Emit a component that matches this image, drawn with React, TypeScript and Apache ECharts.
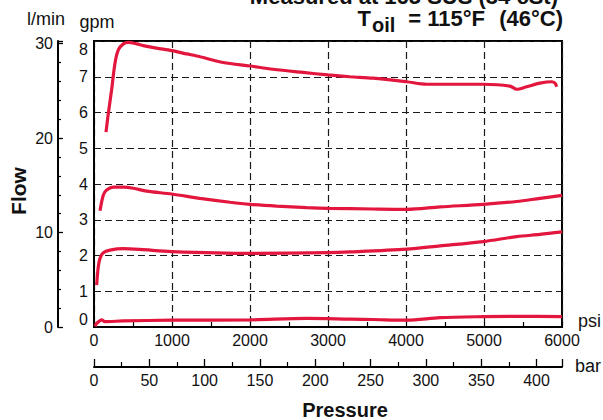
import React, { useEffect, useRef } from "react";
import * as echarts from "echarts";

// Flow (gpm) vs pressure (psi) curves
const curveTop: [number, number][] = [
  [154, 5.45], [184, 5.98], [227, 6.65], [269, 7.38], [312, 7.75], [376, 7.92],
  [440, 7.96], [547, 7.92], [632, 7.87], [803, 7.8], [996, 7.73], [1188, 7.64],
  [1359, 7.56], [1655, 7.4], [2000, 7.3], [2295, 7.21], [2680, 7.12], [3000, 7.05],
  [3282, 7.0], [3577, 6.96], [4009, 6.86], [4265, 6.79], [4650, 6.79], [4987, 6.79],
  [5333, 6.74], [5419, 6.65], [5547, 6.72], [5718, 6.82], [5868, 6.86], [5910, 6.82],
  [5932, 6.72],
];
const curveUpperMid: [number, number][] = [
  [77, 3.25], [120, 3.69], [162, 3.83], [248, 3.91], [376, 3.91], [504, 3.88],
  [675, 3.8], [996, 3.72], [1359, 3.6], [1744, 3.49], [2000, 3.43], [2342, 3.38],
  [2727, 3.34], [3000, 3.32], [3577, 3.3], [4009, 3.29], [4436, 3.36], [4991, 3.43],
  [5419, 3.51], [5718, 3.6], [6000, 3.68],
];
const curveLowerMid: [number, number][] = [
  [34, 1.17], [55, 1.69], [77, 1.92], [120, 2.08], [205, 2.15], [376, 2.19],
  [590, 2.17], [996, 2.11], [2000, 2.06], [3000, 2.08], [3282, 2.1], [4009, 2.18],
  [4436, 2.27], [4991, 2.39], [5419, 2.53], [5718, 2.59], [6000, 2.66],
];
const curveBottom: [number, number][] = [
  [13, 0.02], [34, 0.1], [99, 0.2], [140, 0.15], [376, 0.17], [996, 0.19],
  [2000, 0.2], [2727, 0.24], [3282, 0.22], [3577, 0.21], [4009, 0.19], [4436, 0.26],
  [4991, 0.29], [5419, 0.3], [6000, 0.29],
];

const psiRange = [0, 6000];
const barRange = [0, 423];
const gpmRange = [0, 8];
const lminMax = 8 * 3.78541;

const titleLine1 = "Measured at 165 SUS (34 cSt)";
const titleT = "T";
const titleSub = "oil";
const titleEq = "= 115°F";
const titleC = "(46°C)";

const RED = "#e3173e";
const FF = '"Liberation Sans", Arial, Helvetica, sans-serif';

export default function App() {
  const ref = useRef<HTMLDivElement>(null);
  useEffect(() => {
    if (!ref.current) return;
    const chart = echarts.init(ref.current, undefined, { renderer: "svg" });
    const dash = { type: [7, 4] as any, color: "#1a1a1a", width: 1.2 };
    const lbl = { fontSize: 16, color: "#111", fontFamily: FF };
    const mk = (d: [number, number][]) => ({
      type: "line",
      data: d,
      showSymbol: false,
      smooth: 0.3,
      xAxisIndex: 0,
      yAxisIndex: 0,
      lineStyle: { color: RED, width: 3.2 },
      silent: true,
    });
    const txt = (text: string, x: number, y: number, font: string, align = "left", rotation = 0) => ({
      type: "text",
      x,
      y,
      rotation,
      style: { text, font, fill: "#111", align, verticalAlign: "middle" },
    });
    const blackLine = { color: "#000", width: 2 };
    chart.setOption({
      animation: false,
      grid: {
        left: 94, right: 41, top: 41, bottom: 93,
        show: true, borderColor: "#000", borderWidth: 2, backgroundColor: "transparent",
      },
      xAxis: [
        {
          type: "value", min: psiRange[0], max: psiRange[1], interval: 1000, position: "bottom",
          axisLine: { show: true, onZero: false, lineStyle: blackLine },
          axisTick: { show: true, inside: true, length: 5, lineStyle: { color: "#000", width: 1.2 } },
          minorTick: { show: true, splitNumber: 2, length: 5, lineStyle: { color: "#000", width: 1.2 } },
          axisLabel: { ...lbl, margin: 5, formatter: (v: number) => String(v) },
          splitLine: { show: true, lineStyle: dash },
        },
        {
          type: "value", min: barRange[0], max: barRange[1], interval: 50, position: "bottom", offset: 40,
          axisLine: { show: true, onZero: false, lineStyle: blackLine },
          axisTick: { show: true, inside: true, length: 8, lineStyle: { color: "#000", width: 1.3 } },
          minorTick: { show: true, splitNumber: 2, length: 5, lineStyle: { color: "#000", width: 1.2 } },
          axisLabel: { ...lbl, margin: 5, formatter: (v: number) => (v % 50 === 0 ? String(v) : "") },
          splitLine: { show: false },
        },
      ],
      yAxis: [
        {
          type: "value", min: gpmRange[0], max: gpmRange[1], interval: 1, position: "left",
          axisLine: { show: true, onZero: false, lineStyle: blackLine },
          axisTick: { show: false },
          axisLabel: { ...lbl, margin: 6, verticalAlignMinLabel: "bottom", verticalAlignMaxLabel: "top" },
          splitLine: { show: true, lineStyle: dash },
        },
        {
          type: "value", min: 0, max: lminMax, interval: 10, position: "left", offset: 36,
          axisLine: { show: true, onZero: false, lineStyle: blackLine },
          axisTick: { show: true, inside: true, length: 5, lineStyle: { color: "#000", width: 1.3 } },
          minorTick: { show: true, splitNumber: 5, length: 3, lineStyle: { color: "#000", width: 1.2 } },
          axisLabel: { ...lbl, margin: 5, formatter: (v: number) => (v % 10 === 0 ? String(v) : "") },
          splitLine: { show: false },
        },
      ],
      series: [mk(curveTop), mk(curveUpperMid), mk(curveLowerMid), mk(curveBottom)],
      graphic: [
        txt(titleLine1, 558, -4, `bold 22px ${FF}`, "right"),
        txt(titleT, 371, 18, `bold 22px ${FF}`, "right"),
        txt(titleSub, 372, 25, `bold 20px ${FF}`, "left"),
        txt(titleEq, 485, 18, `bold 22px ${FF}`, "right"),
        txt(titleC, 563, 18, `bold 22px ${FF}`, "right"),
        txt("l/min", 46, 19, `18px ${FF}`, "center"),
        txt("gpm", 97, 22, `18px ${FF}`, "center"),
        txt("Flow", 18, 191, `bold 21px ${FF}`, "center", Math.PI / 2),
        txt("psi", 578, 321, `18px ${FF}`, "left"),
        txt("bar", 575, 366, `18px ${FF}`, "left"),
        txt("Pressure", 345, 410, `bold 20px ${FF}`, "center"),
      ],
    });
    return () => chart.dispose();
  }, []);
  return (
    <div
      ref={ref}
      style={{ position: "absolute", left: 0, top: 0, width: 603, height: 420, background: "#fff" }}
    />
  );
}
